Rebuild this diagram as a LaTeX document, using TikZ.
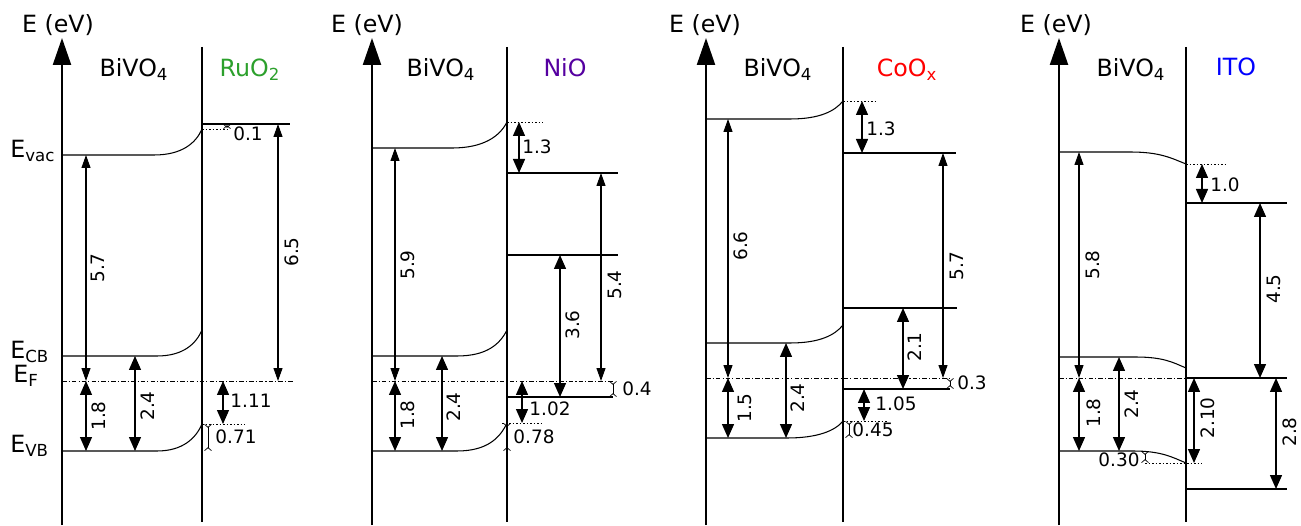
\documentclass[tikz,border=0pt]{standalone}
\usepackage{fontspec}
\setmainfont{DejaVu Sans}
\usetikzlibrary{arrows.meta}
\definecolor{ruogreen}{HTML}{2CA02C}
\definecolor{niopurple}{HTML}{5500A0}
\definecolor{cooxred}{HTML}{FF0000}
\definecolor{itoblue}{HTML}{0000FF}
\tikzset{
  eaxis/.style={-{Triangle[length=5.4mm,width=3.6mm]},line width=1.3pt},
  iface/.style={line width=0.9pt},
  lvl/.style={line width=0.6pt},
  fermi/.style={line width=0.5pt,dash pattern=on 2.6pt off 1.2pt on 0.6pt off 1.2pt},
  aux/.style={line width=0.5pt,dash pattern=on 1pt off 1pt},
  gap/.style={{Triangle[length=2.6mm,width=1.8mm]}-{Triangle[length=2.6mm,width=1.8mm]},line width=0.6pt},
  gapb/.style={{Triangle[length=2.8mm,width=2.4mm]}-{Triangle[length=2.8mm,width=2.4mm]},line width=0.8pt},
  sgap/.style={{Straight Barb[reversed,length=0.6mm,width=1.4mm]}-{Straight Barb[reversed,length=0.6mm,width=1.4mm]},line width=0.4pt},
  val/.style={font=\fontsize{10.5}{12}\selectfont,inner sep=0pt},
  vval/.style={val,rotate=90},
  ttl/.style={font=\fontsize{13.5}{16}\selectfont,inner sep=0pt,anchor=base},
}
\begin{document}
\begin{tikzpicture}[x=0.02cm,y=-0.02cm]
\useasboundingbox (0,0) rectangle (1301,526);

% ---------- BiVO4 / RuO2
\draw[eaxis] (62,525) -- (62,38);
\draw[iface] (202,47) -- (202,522);
\node[ttl] (evA) at (58,33) {E (eV)};
\node[ttl] (bvA) at (134,77) {BiVO\textsubscript{4}};
\node[ttl,text=ruogreen] (mtA) at (250,77) {RuO\textsubscript{2}};
\node[ttl,anchor=base west] (lvac) at (10,158) {E\textsubscript{vac}};
\node[ttl,anchor=base west] (lcb) at (10,359) {E\textsubscript{CB}};
\node[ttl,anchor=base west] (lf) at (13,383) {E\textsubscript{F}};
\node[ttl,anchor=base west] (lvb) at (10,453) {E\textsubscript{VB}};
\coordinate (vacA) at (62,155); \coordinate (vacAi) at (202,129);
\coordinate (cbA) at (62,356);  \coordinate (cbAi) at (202,330);
\coordinate (efA) at (62,381);
\coordinate (vbA) at (62,451);  \coordinate (vbAi) at (202,424);
\coordinate (ruA) at (202,124);
\draw[lvl] (vacA) -- ++(92,0) .. controls +(28,0) and +(-6,14) .. (vacAi);
\draw[lvl] (cbA) -- ++(95,0) .. controls +(26,0) and +(-6,14) .. (cbAi);
\draw[lvl] (vbA) -- ++(95,0) .. controls +(26,0) and +(-6,14) .. (vbAi);
\draw[lvl] (ruA) -- ++(88,0);
\draw[fermi] (efA) -- ++(231,0);
\draw[aux] (vacAi) -- ++(26,0);
\draw[aux] (vbAi) -- ++(43,0);
\coordinate (xA1) at (86,0);  \coordinate (xA2) at (135,0); \coordinate (xA3) at (278,0);
\coordinate (xA4) at (227,0); \coordinate (xA5) at (223,0); \coordinate (xA6) at (208,0);
\draw[gap] (vacA -| xA1) -- (efA -| xA1);
\draw[gapb] (efA -| xA1) -- (vbA -| xA1);
\draw[gapb] (cbA -| xA2) -- (vbA -| xA2);
\draw[gap] (ruA -| xA3) -- (efA -| xA3);
\draw[sgap] (ruA -| xA4) -- (vacAi -| xA4);
\draw[gapb] (efA -| xA5) -- (vbAi -| xA5);
\draw[sgap] (vbAi -| xA6) -- (vbA -| xA6);
\node[vval] (tA1) at (98,268) {5.7};
\node[vval] (tA2) at (99,416) {1.8};
\node[vval] (tA3) at (148,406) {2.4};
\node[vval] (tA4) at (292,252) {6.5};
\node[val] (tA5) at (248,134) {0.1};
\node[val] (tA6) at (251,401) {1.11};
\node[val] (tA7) at (236,437) {0.71};

% ---------- BiVO4 / NiO
\draw[eaxis] (372,525) -- (372,38);
\draw[iface] (507,47) -- (507,522);
\node[ttl] (evB) at (367,33) {E (eV)};
\node[ttl] (bvB) at (441,77) {BiVO\textsubscript{4}};
\node[ttl,text=niopurple] (mtB) at (565,77) {NiO};
\coordinate (vacB) at (372,148); \coordinate (vacBi) at (507,122);
\coordinate (cbB) at (372,356);  \coordinate (cbBi) at (507,330);
\coordinate (efB) at (372,381);
\coordinate (vbB) at (372,451);  \coordinate (vbBi) at (507,423);
\coordinate (nvB) at (507,173); \coordinate (ncB) at (507,255); \coordinate (nfB) at (507,397);
\draw[lvl] (vacB) -- ++(80,0) .. controls +(32,0) and +(-7,14) .. (vacBi);
\draw[lvl] (cbB) -- ++(85,0) .. controls +(30,0) and +(-7,14) .. (cbBi);
\draw[lvl] (vbB) -- ++(85,0) .. controls +(30,0) and +(-7,15) .. (vbBi);
\draw[lvl] (nvB) -- ++(111,0);
\draw[lvl] (ncB) -- ++(111,0);
\draw[lvl] (nfB) -- ++(106,0);
\draw[fermi] (efB) -- ++(241,0);
\draw[aux] (vacBi) -- ++(36,0);
\draw[aux] (vbBi) ++(-5,0) -- ++(41,0);
\coordinate (xB1) at (395,0); \coordinate (xB2) at (442,0); \coordinate (xB3) at (519,0);
\coordinate (xB4) at (601,0); \coordinate (xB5) at (560,0); \coordinate (xB6) at (613,0);
\coordinate (xB7) at (522,0); \coordinate (xB8) at (507,0);
\draw[gap] (vacB -| xB1) -- (efB -| xB1);
\draw[gapb] (efB -| xB1) -- (vbB -| xB1);
\draw[gapb] (cbB -| xB2) -- (vbB -| xB2);
\draw[gapb] (vacBi -| xB3) -- (nvB -| xB3);
\draw[gap] (nvB -| xB4) -- (efB -| xB4);
\draw[gapb] (ncB -| xB5) -- (nfB -| xB5);
\draw[sgap] (efB -| xB6) -- (nfB -| xB6);
\draw[gapb] (efB -| xB7) -- (vbBi -| xB7);
\draw[sgap] (vbBi -| xB8) -- (vbB -| xB8);
\node[vval] (tB1) at (408,265) {5.9};
\node[vval] (tB2) at (408,415) {1.8};
\node[vval] (tB3) at (454,407) {2.4};
\node[val] (tB4) at (537,147) {1.3};
\node[vval] (tB5) at (615,285) {5.4};
\node[vval] (tB6) at (573,325) {3.6};
\node[val] (tB7) at (637,389) {0.4};
\node[val] (tB8) at (550,409) {1.02};
\node[val] (tB9) at (534,437) {0.78};

% ---------- BiVO4 / CoOx
\draw[eaxis] (706,525) -- (706,38);
\draw[iface] (843,47) -- (843,522);
\node[ttl] (evC) at (705,33) {E (eV)};
\node[ttl] (bvC) at (778,77) {BiVO\textsubscript{4}};
\node[ttl,text=cooxred] (mtC) at (907,77) {CoO\textsubscript{x}};
\coordinate (vacC) at (706,119); \coordinate (vacCi) at (843,101);
\coordinate (cbC) at (706,343);  \coordinate (cbCi) at (843,325);
\coordinate (efC) at (706,378);
\coordinate (vbC) at (706,438);  \coordinate (vbCi) at (843,421);
\coordinate (cvC) at (843,153); \coordinate (ccC) at (843,308); \coordinate (cfC) at (843,389);
\draw[lvl] (vacC) -- ++(84,0) .. controls +(30,0) and +(-8,10) .. (vacCi);
\draw[lvl] (cbC) -- ++(84,0) .. controls +(30,0) and +(-8,10) .. (cbCi);
\draw[lvl] (vbC) -- ++(81,0) .. controls +(30,0) and +(-8,10) .. (vbCi);
\draw[lvl] (cvC) -- ++(113,0);
\draw[lvl] (ccC) -- ++(114,0);
\draw[lvl] (cfC) -- ++(107,0);
\draw[fermi] (efC) -- ++(244,0);
\draw[aux] (vacCi) -- ++(35,0);
\draw[aux] (vbCi) -- ++(44,0);
\coordinate (xC1) at (728,0); \coordinate (xC2) at (786,0); \coordinate (xC3) at (862,0);
\coordinate (xC4) at (943,0); \coordinate (xC5) at (903,0); \coordinate (xC6) at (950,0);
\coordinate (xC7) at (864,0); \coordinate (xC8) at (849,0);
\draw[gap] (vacC -| xC1) -- (efC -| xC1);
\draw[gapb] (efC -| xC1) -- (vbC -| xC1);
\draw[gapb] (cbC -| xC2) -- (vbC -| xC2);
\draw[gapb] (vacCi -| xC3) -- (cvC -| xC3);
\draw[gap] (cvC -| xC4) -- (efC -| xC4);
\draw[gapb] (ccC -| xC5) -- (cfC -| xC5);
\draw[sgap] (efC -| xC6) -- (cfC -| xC6);
\draw[gapb] (cfC -| xC7) -- (vbCi -| xC7);
\draw[sgap] (vbCi -| xC8) -- (vbC -| xC8);
\node[vval] (tC1) at (741,246) {6.6};
\node[vval] (tC2) at (745,408) {1.5};
\node[vval] (tC3) at (798,398) {2.4};
\node[val] (tC4) at (881,129) {1.3};
\node[vval] (tC5) at (957,266) {5.7};
\node[vval] (tC6) at (915,347) {2.1};
\node[val] (tC7) at (972,383) {0.3};
\node[val] (tC8) at (896,404) {1.05};
\node[val] (tC9) at (873,430) {0.45};

% ---------- BiVO4 / ITO
\draw[eaxis] (1059,525) -- (1059,38);
\draw[iface] (1186,47) -- (1186,522);
\node[ttl] (evD) at (1056,33) {E (eV)};
\node[ttl] (bvD) at (1131,77) {BiVO\textsubscript{4}};
\node[ttl,text=itoblue] (mtD) at (1236,76) {ITO};
\coordinate (vacD) at (1059,152); \coordinate (vacDi) at (1186,164);
\coordinate (cbD) at (1059,357);  \coordinate (cbDi) at (1186,368);
\coordinate (efD) at (1059,378);
\coordinate (vbD) at (1059,451);  \coordinate (vbDi) at (1186,463);
\coordinate (ivD) at (1186,203); \coordinate (ifD) at (1186,378); \coordinate (ibD) at (1186,489);
\draw[lvl] (vacD) -- ++(71,0) .. controls +(30,0) and +(-15,-6) .. (vacDi);
\draw[lvl] (cbD) -- ++(76,0) .. controls +(28,0) and +(-14,-6) .. (cbDi);
\draw[lvl] (vbD) -- ++(74,0) .. controls +(28,0) and +(-14,-6) .. (vbDi);
\draw[lvl] (ivD) -- ++(101,0);
\draw[lvl] (ifD) -- ++(101,0);
\draw[lvl] (ibD) -- ++(101,0);
\draw[fermi] (efD) -- ++(228,0);
\draw[aux] (vacDi) -- ++(41,0);
\draw[aux] (vbDi) ++(-41,0) -- ++(57,0);
\coordinate (xD1) at (1079,0); \coordinate (xD2) at (1119,0); \coordinate (xD3) at (1202,0);
\coordinate (xD4) at (1260,0); \coordinate (xD5) at (1194,0); \coordinate (xD6) at (1276,0);
\coordinate (xD7) at (1145,0);
\draw[gap] (vacD -| xD1) -- (efD -| xD1);
\draw[gapb] (efD -| xD1) -- (vbD -| xD1);
\draw[gapb] (cbD -| xD2) -- (vbD -| xD2);
\draw[gapb] (vacDi -| xD3) -- (ivD -| xD3);
\draw[gapb] (ivD -| xD4) -- (efD -| xD4);
\draw[gapb] (efD -| xD5) -- (vbDi -| xD5);
\draw[gapb] (efD -| xD6) -- (ibD -| xD6);
\draw[sgap] (vbD -| xD7) -- (vbDi -| xD7);
\node[vval] (tD1) at (1093,265) {5.8};
\node[vval] (tD2) at (1094,413) {1.8};
\node[vval] (tD3) at (1132,404) {2.4};
\node[val] (tD4) at (1225,185) {1.0};
\node[vval] (tD5) at (1274,289) {4.5};
\node[vval] (tD6) at (1208,418) {2.10};
\node[vval] (tD7) at (1290,432) {2.8};
\node[val] (tD8) at (1119,460) {0.30};
\end{tikzpicture}
\end{document}
